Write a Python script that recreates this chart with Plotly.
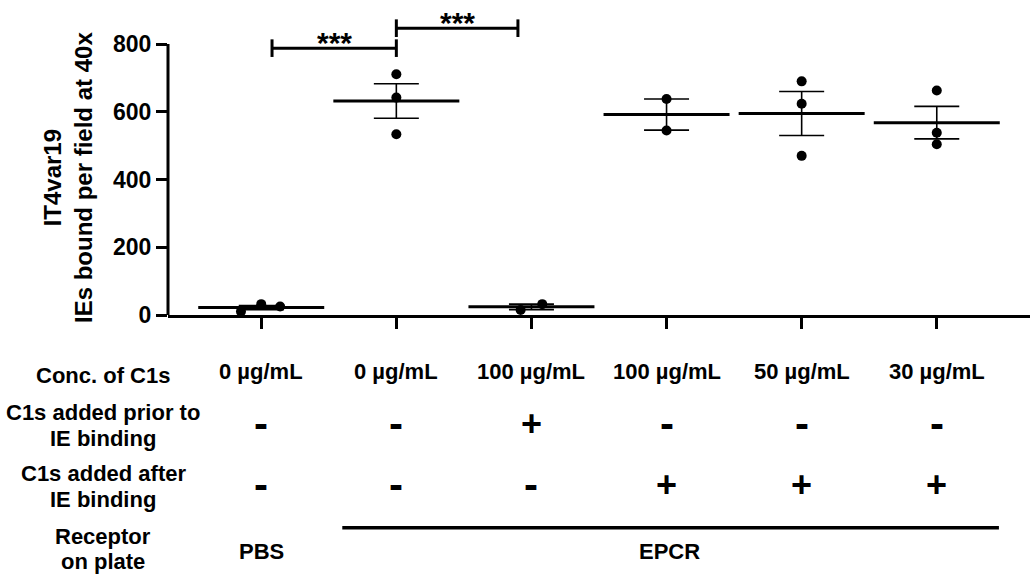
import plotly.graph_objects as go

# ---------------- data ----------------
conc_labels = ["0 µg/mL", "0 µg/mL", "100 µg/mL", "100 µg/mL", "50 µg/mL", "30 µg/mL"]
added_prior = ["-", "-", "+", "-", "-", "-"]
added_after = ["-", "-", "-", "+", "+", "+"]
receptor_pbs = "PBS"
receptor_epcr = "EPCR"

# individual replicate values (IEs bound per field at 40x)
group_points = [
    [10, 32, 25],
    [711, 642, 534],
    [15, 32],
    [638, 545],
    [690, 624, 470],
    [663, 538, 504],
]
# horizontal jitter of replicate dots (category units)
group_jitter = [
    [-0.15, 0.0, 0.14],
    [0.0, 0.0, 0.0],
    [-0.08, 0.08],
    [0.0, 0.0],
    [0.0, 0.0, 0.0],
    [0.0, 0.0, 0.0],
]
group_means = [22, 632, 24, 592, 595, 568]
group_sem = [6, 51, 8, 46, 65, 48]

y_ticks = [0, 200, 400, 600, 800]

# significance brackets: (x start, x end, y level, label)
brackets = [(0.08, 1.0, 788, "***"), (1.0, 1.9, 847, "***")]

# ---------------- layout geometry ----------------
W, H = 1030, 575
L, R, T, B = 168, 0, 17, 260
PW, PH = W - L - R, H - T - B
FONT = "Liberation Sans, Arial, Helvetica, sans-serif"


def px_x(p):
    return (p - L) / PW


def px_y(p):
    return (H - B - p) / PH


idx = list(range(len(conc_labels)))

fig = go.Figure()

# mean line + SEM
fig.add_trace(go.Scatter(
    x=idx, y=group_means, mode="markers",
    marker=dict(symbol="line-ew-open", size=90, color="black",
                line=dict(color="black", width=3)),
    error_y=dict(type="data", array=group_sem, visible=True,
                 color="black", thickness=1.6, width=22.5),
    showlegend=False, hoverinfo="skip",
))

# replicate dots
xs, ys = [], []
for i, (vals, jit) in enumerate(zip(group_points, group_jitter)):
    for v, j in zip(vals, jit):
        xs.append(i + j)
        ys.append(v)
fig.add_trace(go.Scatter(
    x=xs, y=ys, mode="markers",
    marker=dict(symbol="circle", size=10, color="black"),
    showlegend=False, cliponaxis=False,
))

shapes = []
annotations = []

# y axis line (0..800 only)
shapes.append(dict(type="line", xref="x domain", yref="y", x0=0, x1=0,
                   y0=0, y1=max(y_ticks), line=dict(color="black", width=3)))

# significance brackets
cap = 26
for x0, x1, yv, lab in brackets:
    for seg in [(x0, yv, x1, yv), (x0, yv - cap, x0, yv + cap), (x1, yv - cap, x1, yv + cap)]:
        shapes.append(dict(type="line", xref="x", yref="y",
                           x0=seg[0], y0=seg[1], x1=seg[2], y1=seg[3],
                           line=dict(color="black", width=3)))
    annotations.append(dict(x=(x0 + x1) / 2, y=yv, xref="x", yref="y",
                            text=lab, showarrow=False, yanchor="bottom",
                            yshift=-13,
                            font=dict(family=FONT, size=30, color="black", weight="bold")))

# y axis title
annotations.append(dict(x=px_x(67.5), y=px_y(177.5), xref="paper", yref="paper",
                        text="IT4var19<br>IEs bound per field at 40x", textangle=-90,
                        showarrow=False, xanchor="center", yanchor="middle",
                        font=dict(family=FONT, size=24, color="black", weight="bold")))

# row labels on the left (one annotation per text line)
row_font = dict(family=FONT, size=22, color="black", weight="bold")
row_label_lines = [
    ("Conc. of C1s", 375),
    ("C1s added prior to", 412),
    ("IE binding", 438),
    ("C1s added after", 473),
    ("IE binding", 499),
    ("Receptor", 536),
    ("on plate", 561),
]
for txt, yp in row_label_lines:
    annotations.append(dict(x=px_x(103), y=px_y(yp), xref="paper", yref="paper",
                            text=txt, showarrow=False, xanchor="center",
                            yanchor="middle", font=row_font))

# concentration row
for i, t in enumerate(conc_labels):
    annotations.append(dict(x=i, y=px_y(371), xref="x", yref="paper", text=t,
                            showarrow=False, xanchor="center", yanchor="middle",
                            font=row_font))


def sign_annot(i, s, ypix):
    if s == "+":
        return dict(x=i, y=px_y(ypix), xref="x", yref="paper", text="+",
                    showarrow=False, xanchor="center", yanchor="middle",
                    font=dict(family=FONT, size=36, color="black", weight="bold"))
    return dict(x=i, y=px_y(ypix), xref="x", yref="paper", text="-",
                showarrow=False, xanchor="center", yanchor="middle",
                font=dict(family=FONT, size=42, color="black", weight="bold"))


for i, s in enumerate(added_prior):
    annotations.append(sign_annot(i, s, 423))
for i, s in enumerate(added_after):
    annotations.append(sign_annot(i, s, 484))

# receptor row
annotations.append(dict(x=0, y=px_y(551), xref="x", yref="paper", text=receptor_pbs,
                        showarrow=False, xanchor="center", yanchor="middle", font=row_font))
annotations.append(dict(x=3.02, y=px_y(551), xref="x", yref="paper", text=receptor_epcr,
                        showarrow=False, xanchor="center", yanchor="middle", font=row_font))
shapes.append(dict(type="line", xref="x", yref="paper", x0=0.6, x1=5.46,
                   y0=px_y(527.7), y1=px_y(527.7), line=dict(color="black", width=3.5)))

fig.update_layout(
    width=W, height=H, autosize=False,
    margin=dict(l=L, r=R, t=T, b=B, pad=0),
    paper_bgcolor="white", plot_bgcolor="white",
    showlegend=False,
    shapes=shapes, annotations=annotations,
    xaxis=dict(range=[-0.69, 5.69], tickvals=idx, ticktext=[""] * len(idx),
               showticklabels=False, ticks="outside", ticklen=11, tickwidth=3,
               tickcolor="black", showline=True, linecolor="black", linewidth=3,
               showgrid=False, zeroline=False, fixedrange=True),
    yaxis=dict(range=[0, 880], tickvals=y_ticks, ticks="outside", ticklen=11,
               tickwidth=3, tickcolor="black", showline=False, showgrid=False,
               zeroline=False,
               tickfont=dict(family=FONT, size=23, color="black", weight="bold")),
)

fig.write_html(
    "out.html",
    config={"displayModeBar": False},
    post_script="document.body.style.margin='0';document.body.style.overflow='hidden';",
)
